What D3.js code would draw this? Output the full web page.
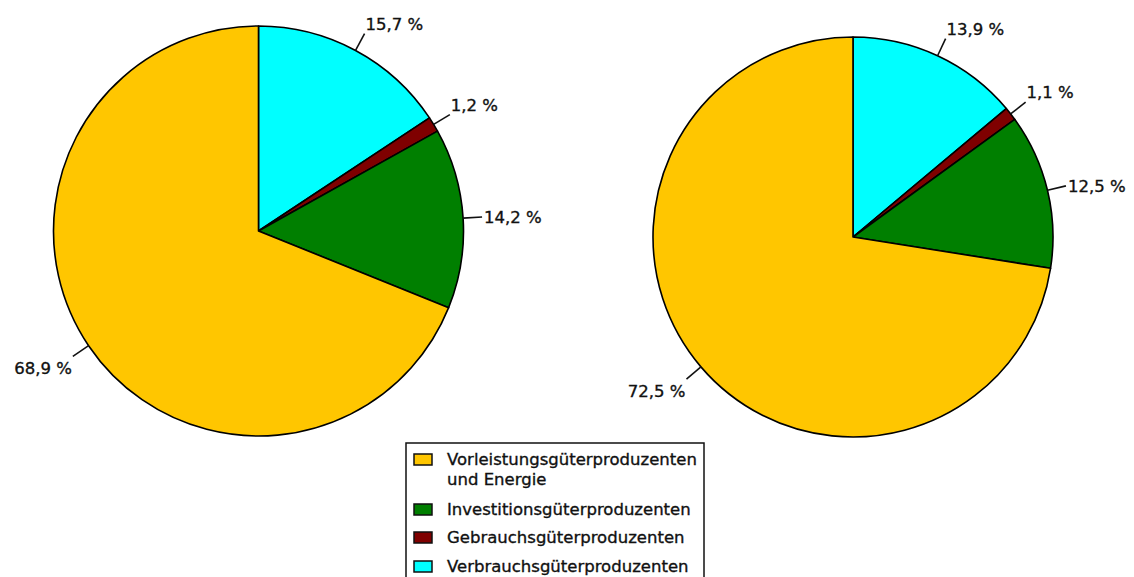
<!DOCTYPE html>
<html>
<head>
<meta charset="utf-8">
<script src="https://cdn.jsdelivr.net/npm/d3@7"></script>
<style>
  body { margin: 0; background: #fff; }
  svg { display: block; font-family: "DejaVu Sans", sans-serif; }
  text { stroke: #111; stroke-width: 0.35px; }
</style>
</head>
<body>
<svg id="chart" width="1134" height="577"></svg>
<script>
// categories in drawing order (clockwise from 12 o'clock)
var categories = ["Verbrauchsgüterproduzenten", "Gebrauchsgüterproduzenten", "Investitionsgüterproduzenten", "Vorleistungsgüterproduzenten und Energie"];
var colors = ["#00ffff", "#7f0000", "#007f00", "#ffc600"];
var leftValues = [15.7, 1.2, 14.2, 68.9];
var rightValues = [13.9, 1.1, 12.5, 72.5];
// legend is listed the other way round
var legendLabels = [["Vorleistungsgüterproduzenten", "und Energie"], ["Investitionsgüterproduzenten"], ["Gebrauchsgüterproduzenten"], ["Verbrauchsgüterproduzenten"]];
var legendColors = ["#ffc600", "#007f00", "#7f0000", "#00ffff"];

var svg = d3.select("#chart");

function fmt(v) {
    return v.toFixed(1).replace(".", ",") + " %";
}

var pie = d3.pie().sort(null).value(function(d) { return d; });

function drawPie(values, cx, cy, r) {
    var g = svg.append("g").attr("transform", "translate(" + cx + "," + cy + ")");
    var arc = d3.arc().innerRadius(0).outerRadius(r);
    var arcs = pie(values);

    g.selectAll("path.slice").data(arcs).enter().append("path")
        .attr("class", "slice")
        .attr("d", arc)
        .attr("fill", function(d, i) { return colors[i]; })
        .attr("stroke", "#000")
        .attr("stroke-width", 1.6)
        .attr("stroke-linejoin", "round");

    // leader lines + labels
    arcs.forEach(function(d) {
        var a = (d.startAngle + d.endAngle) / 2;
        var s = Math.sin(a), c = Math.cos(a);
        var x1 = s * r, y1 = -c * r;
        var x2 = s * (r + 19), y2 = -c * (r + 19);
        g.append("line")
            .attr("x1", x1).attr("y1", y1)
            .attr("x2", x2).attr("y2", y2)
            .attr("stroke", "#111")
            .attr("stroke-width", 1.6);

        var t = g.append("text")
            .attr("font-size", "16.5px")
            .attr("fill", "#111")
            .text(fmt(d.data));
        var anchor = s > 0.3 ? "start" : (s < -0.3 ? "end" : "middle");
        var tx = x2 + (s > 0 ? 1 : -1) * (c > 0.5 || c < -0.5 ? 1 : 2);
        var ty;
        if (c > 0.5) ty = y2 - 4;
        else if (c < -0.5) ty = y2 + 18;
        else ty = y2 + 6;
        t.attr("x", tx).attr("y", ty).attr("text-anchor", anchor);
    });
}

drawPie(leftValues, 258.5, 231, 205);
drawPie(rightValues, 853, 237, 200);

// legend
var legend = svg.append("g").attr("transform", "translate(406,443)");
legend.append("rect")
    .attr("x", 0).attr("y", 0)
    .attr("width", 298).attr("height", 160)
    .attr("fill", "#fff")
    .attr("stroke", "#111")
    .attr("stroke-width", 1.5);

var rowY = [22, 72, 100, 129];
legendLabels.forEach(function(lines, i) {
    legend.append("rect")
        .attr("x", 8).attr("y", rowY[i] - 11)
        .attr("width", 18).attr("height", 11)
        .attr("fill", legendColors[i])
        .attr("stroke", "#111")
        .attr("stroke-width", 1.5);
    lines.forEach(function(line, j) {
        legend.append("text")
            .attr("x", 41)
            .attr("y", rowY[i] + j * 20)
            .attr("font-size", "16.5px")
            .attr("fill", "#111")
            .text(line);
    });
});
</script>
</body>
</html>
